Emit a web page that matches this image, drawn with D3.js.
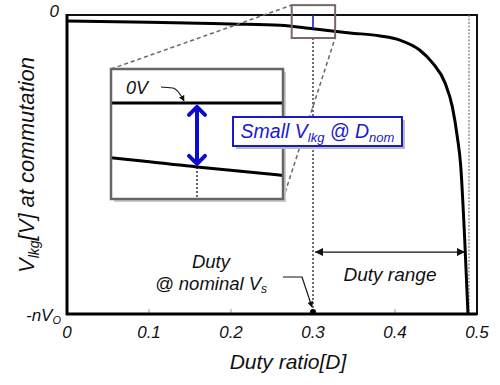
<!DOCTYPE html>
<html>
<head>
<meta charset="utf-8">
<script src="https://cdn.jsdelivr.net/npm/d3@7/dist/d3.min.js"></script>
<style>
  html, body { margin: 0; padding: 0; background: #fff; }
  svg { display: block; font-family: "Liberation Sans", Arial, sans-serif; font-style: italic; }
</style>
</head>
<body>
<svg id="chart" width="500" height="385"></svg>
<script>
// Duty ratio D and leakage-inductor voltage at commutation (in units of nVo)
const duty   = [0, 0.1, 0.2, 0.26, 0.3, 0.345, 0.382, 0.406, 0.43, 0.446, 0.461, 0.47, 0.476, 0.48, 0.485, 0.489];
const vLkg   = [-0.02, -0.024, -0.03, -0.034, -0.046, -0.06, -0.07, -0.084, -0.117, -0.161, -0.227, -0.308, -0.408, -0.5, -0.75, -1.0];

const xTicks = [0, 0.1, 0.2, 0.3, 0.4, 0.5];
const xTickLabels = ["0", "0.1", "0.2", "0.3", "0.4", "0.5"];
const yTicks = [0, -1];

const dNominal = 0.3;      // nominal duty
const dMax = 0.489;        // upper end of duty range
const zoomBoxD = [0.274, 0.327];
const zoomBoxV = [0.033, -0.077];
const insetD = [0.2805, 0.3195];
const insetV = [0.0244, -0.0691];

const svg = d3.select("#chart");
const m = { left: 67, right: 477, top: 15, bottom: 314 };

const x = d3.scaleLinear().domain([0, 0.5]).range([m.left, m.right]);
const y = d3.scaleLinear().domain([-1, 0]).range([m.bottom, m.top]);

const pts = duty.map((d, i) => [d, vLkg[i]]);

// frame
svg.append("rect").attr("x", m.left).attr("y", m.top)
  .attr("width", m.right - m.left).attr("height", m.bottom - m.top)
  .attr("fill", "none").attr("stroke", "#111").attr("stroke-width", 2);

// x ticks (short, inward)
svg.append("g").selectAll("line").data(xTicks.slice(1, -1)).join("line")
  .attr("x1", d => x(d)).attr("x2", d => x(d))
  .attr("y1", m.bottom).attr("y2", m.bottom - 5)
  .attr("stroke", "#999").attr("stroke-width", 1);

// x tick labels
svg.append("g").selectAll("text").data(xTicks).join("text")
  .attr("x", d => x(d)).attr("y", 338)
  .attr("text-anchor", "middle").attr("font-size", 17).attr("fill", "#111")
  .text((d, i) => xTickLabels[i]);

// y tick labels
svg.append("text").attr("x", 59).attr("y", y(yTicks[0]) + 2)
  .attr("text-anchor", "end").attr("font-size", 17).attr("fill", "#111").text("0");
const yl = svg.append("text").attr("x", 61).attr("y", y(yTicks[1]) + 7)
  .attr("text-anchor", "end").attr("font-size", 17).attr("fill", "#111");
yl.append("tspan").text("-nV");
yl.append("tspan").attr("font-size", 11).attr("dy", 3).text("O");

// axis titles
svg.append("text").attr("x", 288).attr("y", 369)
  .attr("text-anchor", "middle").attr("font-size", 21).attr("fill", "#111")
  .text("Duty ratio[D]");
const yt = svg.append("text").attr("transform", "translate(34,165) rotate(-90)")
  .attr("text-anchor", "middle").attr("font-size", 22).attr("fill", "#111");
yt.append("tspan").text("V");
yt.append("tspan").attr("font-size", 14).attr("dy", 5).text("lkg");
yt.append("tspan").attr("dy", -5).text("[V] at commutation");

// dotted boundary at maximum duty
svg.append("line")
  .attr("x1", x(dMax) + 1).attr("x2", x(dMax) + 1)
  .attr("y1", m.top).attr("y2", m.bottom)
  .attr("stroke", "#777").attr("stroke-width", 1.2).attr("stroke-dasharray", "2,1.5");

// dotted line at nominal duty
svg.append("line")
  .attr("x1", x(dNominal)).attr("x2", x(dNominal))
  .attr("y1", y(zoomBoxV[1])).attr("y2", m.bottom)
  .attr("stroke", "#111").attr("stroke-width", 1.2).attr("stroke-dasharray", "2,2");

// main curve
const line = d3.line().x(d => x(d[0])).y(d => y(d[1])).curve(d3.curveMonotoneX);
svg.append("path").datum(pts).attr("d", line)
  .attr("fill", "none").attr("stroke", "#000").attr("stroke-width", 3);

// left and bottom axis lines (heavier)
svg.append("line").attr("x1", m.left).attr("x2", m.left).attr("y1", m.top - 1).attr("y2", m.bottom + 1)
  .attr("stroke", "#000").attr("stroke-width", 3);
svg.append("line").attr("x1", m.left - 1).attr("x2", m.right).attr("y1", m.bottom).attr("y2", m.bottom)
  .attr("stroke", "#000").attr("stroke-width", 3);

// small voltage at nominal duty
const vNom = vLkg[duty.indexOf(dNominal)];
svg.append("line").attr("x1", x(dNominal)).attr("x2", x(dNominal))
  .attr("y1", y(0)).attr("y2", y(vNom))
  .attr("stroke", "#1a1adc").attr("stroke-width", 1.6);

// zoom box
const zb = { x0: x(zoomBoxD[0]), x1: x(zoomBoxD[1]), y0: y(zoomBoxV[0]), y1: y(zoomBoxV[1]) };
svg.append("rect").attr("x", zb.x0).attr("y", zb.y0)
  .attr("width", zb.x1 - zb.x0).attr("height", zb.y1 - zb.y0)
  .attr("fill", "none").attr("stroke", "#7a6666").attr("stroke-width", 2);

// inset panel
const ib = { x0: 111, x1: 283, y0: 69, y1: 199 };
svg.append("line").attr("x1", ib.x0).attr("y1", ib.y0).attr("x2", zb.x0).attr("y2", zb.y0)
  .attr("stroke", "#666").attr("stroke-width", 1.5).attr("stroke-dasharray", "4,3");
svg.append("line").attr("x1", ib.x1).attr("y1", ib.y1).attr("x2", zb.x1).attr("y2", zb.y1)
  .attr("stroke", "#666").attr("stroke-width", 1.5).attr("stroke-dasharray", "4,3");

const ix = d3.scaleLinear().domain(insetD).range([ib.x0, ib.x1]);
const iy = d3.scaleLinear().domain(insetV).range([ib.y0, ib.y1]);

svg.append("defs").append("clipPath").attr("id", "insetClip")
  .append("rect").attr("x", ib.x0).attr("y", ib.y0)
  .attr("width", ib.x1 - ib.x0).attr("height", ib.y1 - ib.y0);

// shadow + background
svg.append("rect").attr("x", ib.x0 + 3).attr("y", ib.y0 + 3)
  .attr("width", ib.x1 - ib.x0).attr("height", ib.y1 - ib.y0).attr("fill", "#ccc");
svg.append("rect").attr("x", ib.x0).attr("y", ib.y0)
  .attr("width", ib.x1 - ib.x0).attr("height", ib.y1 - ib.y0).attr("fill", "#fff");

const ig = svg.append("g").attr("clip-path", "url(#insetClip)");
const iline = d3.line().x(d => ix(d[0])).y(d => iy(d[1])).curve(d3.curveMonotoneX);
ig.append("line").attr("x1", ib.x0).attr("x2", ib.x1).attr("y1", iy(0)).attr("y2", iy(0))
  .attr("stroke", "#000").attr("stroke-width", 3);
ig.append("path").datum(pts).attr("d", iline)
  .attr("fill", "none").attr("stroke", "#000").attr("stroke-width", 3);
ig.append("line").attr("x1", ix(dNominal)).attr("x2", ix(dNominal))
  .attr("y1", iy(vNom)).attr("y2", ib.y1)
  .attr("stroke", "#111").attr("stroke-width", 1.3).attr("stroke-dasharray", "2,2");

// blue double arrow
const ax = ix(dNominal), aTop = iy(0) + 3, aBot = iy(vNom) - 2;
const blue = "#0a0ad0";
svg.append("line").attr("x1", ax).attr("x2", ax).attr("y1", aTop + 1).attr("y2", aBot - 1)
  .attr("stroke", blue).attr("stroke-width", 4);
svg.append("path").attr("d", `M${ax - 8},${aTop + 9} L${ax},${aTop + 1} L${ax + 8},${aTop + 9}`)
  .attr("fill", "none").attr("stroke", blue).attr("stroke-width", 4)
  .attr("stroke-linecap", "round").attr("stroke-linejoin", "round");
svg.append("path").attr("d", `M${ax - 8},${aBot - 9} L${ax},${aBot - 1} L${ax + 8},${aBot - 9}`)
  .attr("fill", "none").attr("stroke", blue).attr("stroke-width", 4)
  .attr("stroke-linecap", "round").attr("stroke-linejoin", "round");

svg.append("rect").attr("x", ib.x0).attr("y", ib.y0)
  .attr("width", ib.x1 - ib.x0).attr("height", ib.y1 - ib.y0)
  .attr("fill", "none").attr("stroke", "#666").attr("stroke-width", 2.5);

// "0V" label and its pointer
svg.append("text").attr("x", 126).attr("y", 94).attr("font-size", 18).attr("fill", "#111").text("0V");
svg.append("defs").append("marker").attr("id", "arrowSmall")
  .attr("viewBox", "0 0 10 10").attr("refX", 9).attr("refY", 5)
  .attr("markerWidth", 5).attr("markerHeight", 5).attr("orient", "auto")
  .append("path").attr("d", "M0,0 L10,5 L0,10 z").attr("fill", "#111");
svg.append("path").attr("d", "M161,87 L173,88 Q178,89 184,101")
  .attr("fill", "none").attr("stroke", "#111").attr("stroke-width", 1.2)
  .attr("marker-end", "url(#arrowSmall)");

// annotation box
const nb = { x: 233, y: 117, w: 169, h: 29 };
svg.append("rect").attr("x", nb.x + 3).attr("y", nb.y + 3).attr("width", nb.w).attr("height", nb.h).attr("fill", "#bbb");
svg.append("rect").attr("x", nb.x).attr("y", nb.y).attr("width", nb.w).attr("height", nb.h)
  .attr("fill", "#fff").attr("stroke", "#1a1acc").attr("stroke-width", 2);
const nt = svg.append("text").attr("x", nb.x + nb.w / 2).attr("y", nb.y + 21)
  .attr("text-anchor", "middle").attr("font-size", 19.5).attr("fill", "#1a1acc");
nt.append("tspan").text("Small V");
nt.append("tspan").attr("font-size", 13).attr("dy", 4).text("lkg");
nt.append("tspan").attr("dy", -4).text(" @ D");
nt.append("tspan").attr("font-size", 13).attr("dy", 4).text("nom");

// duty range arrow
svg.append("defs").append("marker").attr("id", "arrowHead")
  .attr("viewBox", "0 0 10 10").attr("refX", 10).attr("refY", 5)
  .attr("markerWidth", 8).attr("markerHeight", 8).attr("markerUnits", "userSpaceOnUse")
  .attr("orient", "auto-start-reverse")
  .append("path").attr("d", "M0,0 L10,5 L0,10 z").attr("fill", "#111");
const rangeV = -0.793;
svg.append("line").attr("x1", x(dNominal) + 2).attr("x2", x(dMax) - 3)
  .attr("y1", y(rangeV)).attr("y2", y(rangeV))
  .attr("stroke", "#111").attr("stroke-width", 1.3)
  .attr("marker-start", "url(#arrowHead)").attr("marker-end", "url(#arrowHead)");
svg.append("text").attr("x", 390).attr("y", 281).attr("text-anchor", "middle")
  .attr("font-size", 19).attr("fill", "#111").text("Duty range");

// nominal duty point and label
svg.append("circle").attr("cx", x(dNominal)).attr("cy", y(-1) - 2).attr("r", 3).attr("fill", "#000");
svg.append("text").attr("x", 211).attr("y", 268).attr("text-anchor", "middle")
  .attr("font-size", 18.5).attr("fill", "#111").text("Duty");
const dn = svg.append("text").attr("x", 211).attr("y", 290).attr("text-anchor", "middle")
  .attr("font-size", 18.5).attr("fill", "#111");
dn.append("tspan").text("@ nominal V");
dn.append("tspan").attr("font-size", 12).attr("dy", 3).text("s");
svg.append("path").attr("d", `M283,277 L302,277 L${x(dNominal) - 1},${y(-1) - 7}`)
  .attr("fill", "none").attr("stroke", "#111").attr("stroke-width", 1.2)
  .attr("marker-end", "url(#arrowSmall)");
</script>
</body>
</html>
